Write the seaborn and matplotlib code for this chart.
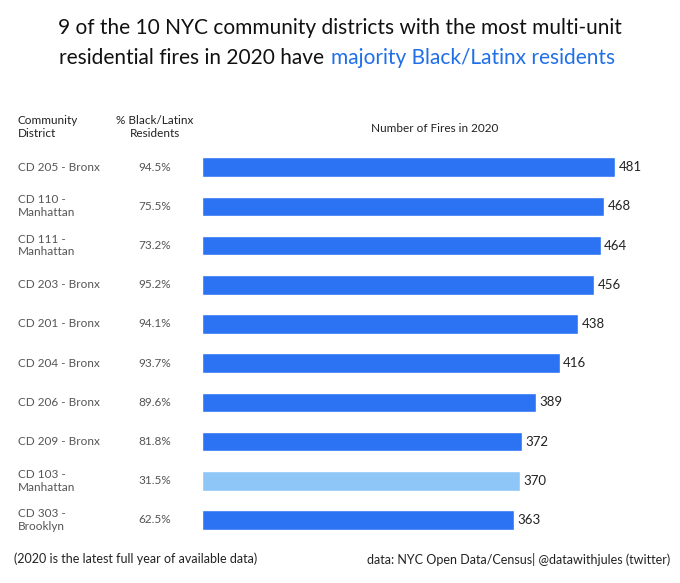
import matplotlib
matplotlib.use("Agg")
import matplotlib.pyplot as plt
import seaborn as sns
import pandas as pd

districts = ["CD 205 - Bronx", "CD 110 -\nManhattan", "CD 111 -\nManhattan", "CD 203 - Bronx",
             "CD 201 - Bronx", "CD 204 - Bronx", "CD 206 - Bronx", "CD 209 - Bronx",
             "CD 103 -\nManhattan", "CD 303 -\nBrooklyn"]
pct = ["94.5%", "75.5%", "73.2%", "95.2%", "94.1%", "93.7%", "89.6%", "81.8%", "31.5%", "62.5%"]
fires = [481, 468, 464, 456, 438, 416, 389, 372, 370, 363]
majority = [True, True, True, True, True, True, True, True, False, True]

df = pd.DataFrame({"d": districts, "f": fires,
                   "m": ["yes" if m else "no" for m in majority]})

sns.set_style("white")
plt.rcParams['font.family'] = ['Lato', 'DejaVu Sans']
fig = plt.figure(figsize=(6.8, 5.83), dpi=100)
ax = fig.add_axes([0.297, 0.0745, 0.632, 0.6725])
sns.barplot(data=df, x="f", y="d", hue="m", palette={"yes": "#2b73f2", "no": "#8fc6f8"},
            dodge=False, width=0.5, legend=False, ax=ax, saturation=1)
ax.set_xlim(0, 500)
ax.set_ylim(9.5, -0.5)
ax.set_xlabel(""); ax.set_ylabel("")
ax.set_xticks([]); ax.set_yticks([])
for s in ax.spines.values():
    s.set_visible(False)
for i, v in enumerate(fires):
    ax.text(v + 4, i, str(v), va="center", ha="left", fontsize=9.5, color="#222222")
tr = ax.get_yaxis_transform()
for i, (d, p) in enumerate(zip(districts, pct)):
    ax.text(-0.428, i, d, transform=tr, va="center", ha="left", fontsize=8.5, color="#555555")
    ax.text(-0.109, i, p, transform=tr, va="center", ha="center", fontsize=8.5, color="#555555")

fig.text(18/680, 1-127/583, "Community\nDistrict", ha="left", va="center", fontsize=8.5, color="#222222")
fig.text(155/680, 1-127/583, "% Black/Latinx\nResidents", ha="center", va="center", fontsize=8.5, color="#222222")
fig.text(435/680, 1-128/583, "Number of Fires in 2020", ha="center", va="center", fontsize=8.5, color="#222222")

fig.text(340/680, 1-28/583, "9 of the 10 NYC community districts with the most multi-unit",
         ha="center", va="center", fontsize=15, color="#111111")
fig.text(329/680, 1-58/583, "residential fires in 2020 have ", ha="right", va="center",
         fontsize=15, color="#111111")
fig.text(331/680, 1-58/583, "majority Black/Latinx residents", ha="left", va="center",
         fontsize=15, color="#1f6fe8")

fig.text(14/680, 1-559/583, "(2020 is the latest full year of available data)", ha="left",
         va="center", fontsize=9, color="#222222")
fig.text(670/680, 1-559/583, "data: NYC Open Data/Census| @datawithjules (twitter)", ha="right",
         va="center", fontsize=9, color="#222222")
fig.savefig("out.png", dpi=100)
